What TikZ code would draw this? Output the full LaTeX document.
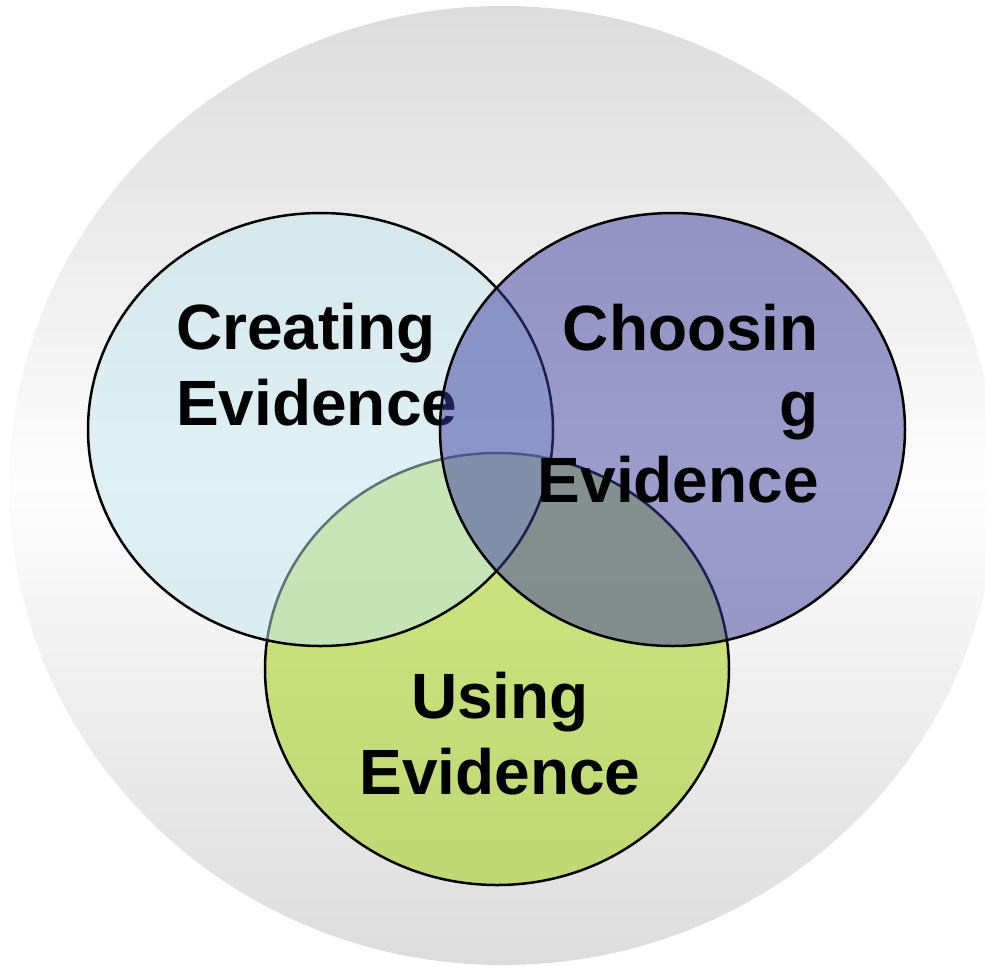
\documentclass[tikz,border=0pt]{standalone}
\usepackage{fontspec}
\setmainfont{Liberation Sans}
\newlength{\du}
\setlength{\du}{1pt}
\tikzset{
  backdisc/.style={top color=discgray, bottom color=discgray, middle color=discwhite},
  vennset/.style={draw=black, line width=2.5\du, fill opacity=0.5},
  venntext/.style={inner sep=0pt, font=\bfseries\fontsize{64}{76}\selectfont},
}

\begin{document}
\begin{tikzpicture}
\pgftransformxscale{1.000000}
\pgftransformyscale{-1.000000}
\useasboundingbox (0\du,0\du) rectangle (985\du,966\du);
% background disc
\definecolor{discgray}{rgb}{0.862745, 0.862745, 0.862745}
\definecolor{discwhite}{rgb}{0.992157, 0.992157, 0.992157}
\shade[backdisc] (503\du,485.5\du) ellipse [x radius=494\du, y radius=479.5\du];
% Using Evidence
\definecolor{usingfill}{rgb}{0.627451, 0.815686, 0.031373}
\path[vennset, fill=usingfill] (497\du,669\du) ellipse [x radius=232\du, y radius=216\du];
\node[venntext, align=center, anchor=base] (usingtext) at (500\du,794\du){Using\\Evidence};
% Creating Evidence
\definecolor{creatingfill}{rgb}{0.760784, 0.901961, 0.925490}
\path[vennset, fill=creatingfill] (320.5\du,429.5\du) ellipse [x radius=232.5\du, y radius=216.5\du];
\node[venntext, align=left, anchor=base west] (creatingtext) at (176\du,425\du){Creating\\Evidence};
% Choosing Evidence
\definecolor{choosingfill}{rgb}{0.235294, 0.235294, 0.619608}
\path[vennset, fill=choosingfill] (672.5\du,429.5\du) ellipse [x radius=232.5\du, y radius=216.5\du];
\node[venntext, align=right, anchor=base east] (choosingtext) at (819\du,502\du){Choosin\\g\\Evidence};
\end{tikzpicture}
\end{document}
